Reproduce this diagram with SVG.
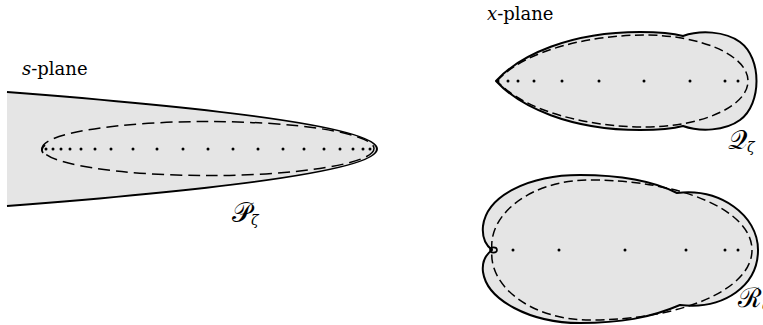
<svg xmlns="http://www.w3.org/2000/svg" width="763" height="325" viewBox="0 0 763 325">
<style>
.region{fill:#e5e5e5;stroke:#000;stroke-width:2;stroke-linejoin:round}
.edge{fill:none;stroke:#000;stroke-width:2}
.dash{fill:none;stroke:#000;stroke-width:1.5;stroke-dasharray:9 4.5}
.dot{fill:#000}
.lbl{font-family:"DejaVu Serif","Liberation Serif",serif;font-size:18px;fill:#000}
.cal{font-size:27px}
.it{font-style:italic}
</style>
<rect width="763" height="325" fill="#fff"/>
<g id="s-plane">
  <path d="M7,92 Q747,149 7,206 Z" fill="#e5e5e5" stroke="none"/>
  <path class="edge" d="M7,92 Q747,149 7,206"/>
  <ellipse class="dash" cx="208" cy="148.5" rx="166" ry="27" style="stroke-dasharray:12 6"/>
  <path class="edge" d="M45,145 Q40,149 43,153" style="stroke-width:1.8"/>
  <g class="dot">
    <circle cx="46" cy="149" r="1.5"/><circle cx="53" cy="149" r="1.5"/><circle cx="61" cy="149" r="1.5"/>
    <circle cx="70" cy="149" r="1.5"/><circle cx="81" cy="149" r="1.5"/><circle cx="95" cy="149" r="1.5"/>
    <circle cx="111" cy="149" r="1.5"/><circle cx="133" cy="149" r="1.5"/><circle cx="157" cy="149" r="1.5"/>
    <circle cx="183" cy="149" r="1.5"/><circle cx="208" cy="149" r="1.5"/><circle cx="233" cy="149" r="1.5"/>
    <circle cx="258" cy="149" r="1.5"/><circle cx="283" cy="149" r="1.5"/><circle cx="304" cy="149" r="1.5"/>
    <circle cx="324" cy="149" r="1.5"/><circle cx="340" cy="149" r="1.5"/><circle cx="353" cy="149" r="1.5"/>
    <circle cx="363" cy="149" r="1.5"/><circle cx="370" cy="149" r="1.5"/>
  </g>
  <text class="lbl" x="22" y="75"><tspan class="it">s</tspan>-plane</text>
  <text class="lbl" x="232" y="222"><tspan class="cal">𝒫</tspan><tspan class="it" font-size="14" dy="3">ζ</tspan></text>
</g>
<g id="x-plane-Q">
  <path class="region" d="M496,81 C520,55 570,32 640,32 C660,32 672,33 683,36 C700,30 725,31 740,42 C762,58 762,104 740,120 C725,131 700,132 683,126 C672,129 660,130 640,130 C570,130 520,107 496,81 Z"/>
  <path class="dash" d="M497,81 C525,50 590,35 645,35 C700,35 748,55 748,81 C748,107 700,127 645,127 C590,127 525,112 497,81"/>
  <g class="dot">
    <circle cx="498" cy="81" r="1.5"/><circle cx="508" cy="81" r="1.5"/><circle cx="518" cy="81" r="1.5"/>
    <circle cx="534" cy="81" r="1.5"/><circle cx="562" cy="81" r="1.5"/><circle cx="599" cy="81" r="1.5"/>
    <circle cx="644" cy="81" r="1.5"/><circle cx="690" cy="81" r="1.5"/><circle cx="725" cy="81" r="1.5"/>
    <circle cx="738" cy="81" r="1.5"/>
  </g>
  <text class="lbl" x="487" y="20"><tspan class="it">x</tspan>-plane</text>
  <text class="lbl" x="728" y="149"><tspan class="cal">𝒬</tspan><tspan class="it" font-size="14" dy="3">ζ</tspan></text>
</g>
<g id="x-plane-R">
  <path class="region" d="M492,250 C484,244 482,236 483,226 C487,195 530,175 580,175 C625,175 655,182 677,193 C720,188 758,215 758,250 C758,285 725,310 680,305 C650,318 620,323 580,323 C530,323 487,300 483,272 C482,264 484,256 492,250 Z"/>
  <path class="dash" d="M492,250 C488,215 530,180 590,180 C680,180 752,210 752,250 C752,290 680,320 590,320 C530,320 488,285 492,250"/>
  <ellipse cx="493.5" cy="250" rx="3.5" ry="2.6" fill="none" stroke="#000" stroke-width="1.6"/>
  <g class="dot">
    <circle cx="513" cy="250" r="1.5"/><circle cx="559" cy="250" r="1.5"/><circle cx="625" cy="250" r="1.5"/>
    <circle cx="686" cy="250" r="1.5"/><circle cx="725" cy="250" r="1.5"/><circle cx="738" cy="250" r="1.5"/>
  </g>
  <text class="lbl" x="738" y="307"><tspan class="cal">ℛ</tspan><tspan class="it" font-size="14" dy="3">ζ</tspan></text>
</g>
</svg>
